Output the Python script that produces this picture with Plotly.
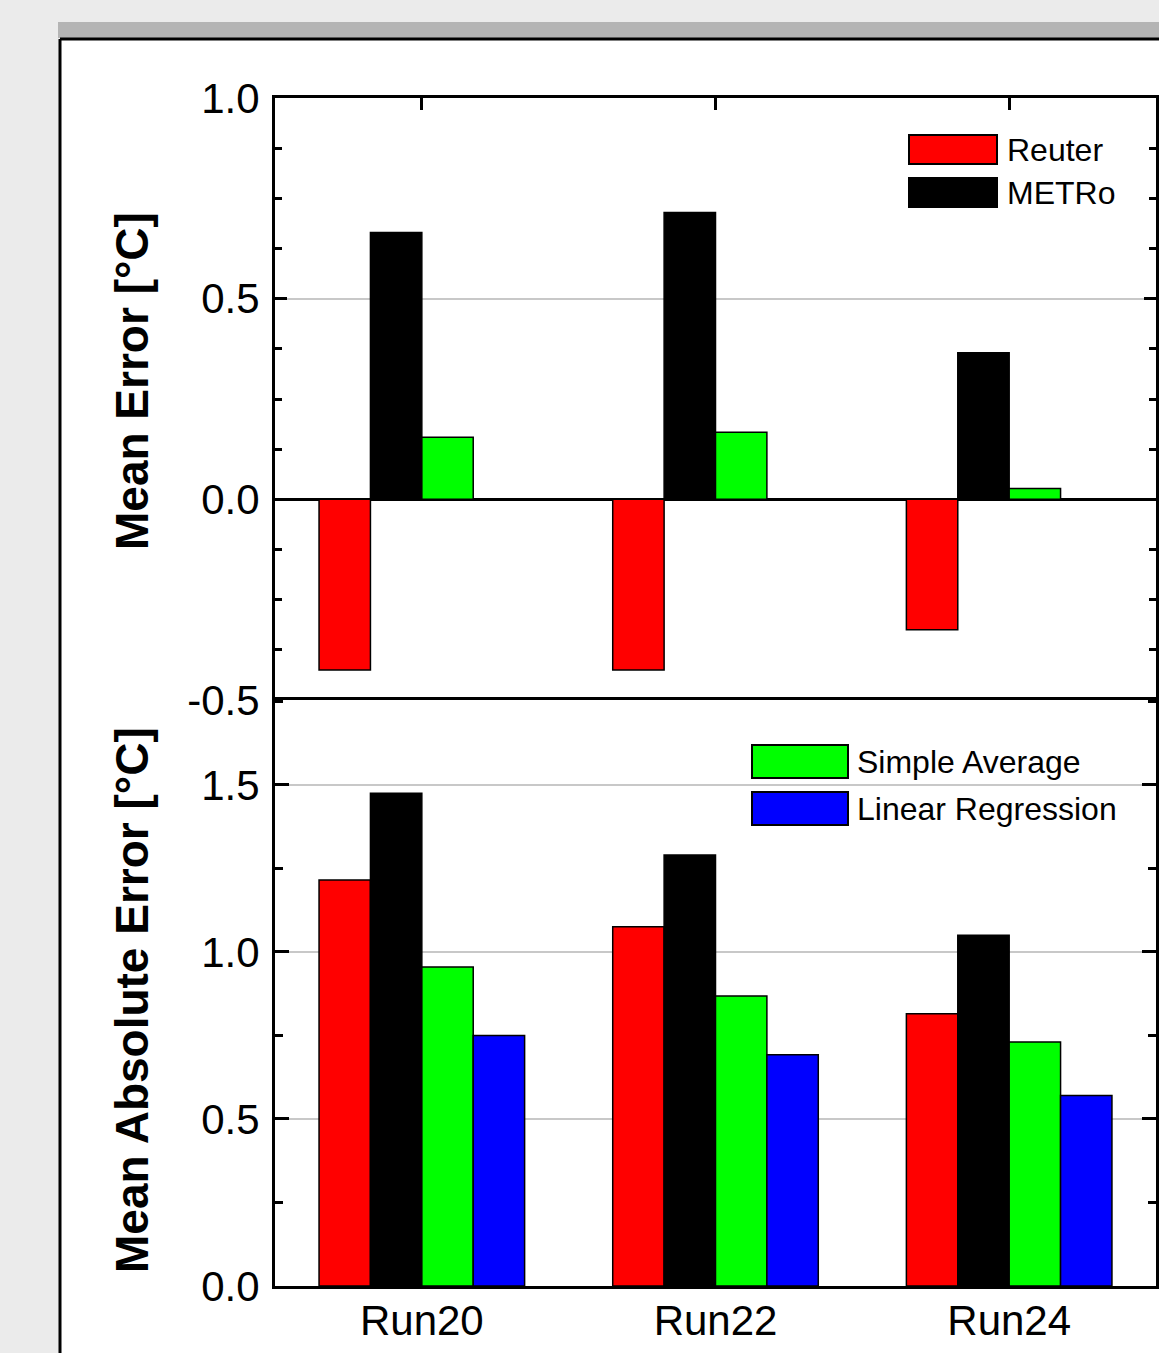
import plotly.graph_objects as go

# ---------------- data ----------------
runs = ["Run20", "Run22", "Run24"]
series_names = ["Reuter", "METRo", "Simple Average", "Linear Regression"]
series_colors = ["#ff0000", "#000000", "#00ff00", "#0000ff"]

mean_error_reuter = [-0.425, -0.425, -0.325]
mean_error_metro = [0.665, 0.715, 0.365]
mean_error_simple = [0.155, 0.167, 0.027]
mean_error_linreg = [0.0, 0.0, 0.0]

mae_reuter = [1.215, 1.075, 0.815]
mae_metro = [1.475, 1.290, 1.050]
mae_simple = [0.955, 0.868, 0.730]
mae_linreg = [0.750, 0.692, 0.570]

top_ticks = [-0.5, 0.0, 0.5, 1.0]
bottom_ticks = [0.0, 0.5, 1.0, 1.5]

me_values = [mean_error_reuter, mean_error_metro, mean_error_simple, mean_error_linreg]
mae_values = [mae_reuter, mae_metro, mae_simple, mae_linreg]

# ---------------- geometry helpers ----------------
W, H = 1159, 1353
def px(x):
    return x / W
def py(y):
    return 1 - y / H

FONT = "Liberation Sans, Arial, sans-serif"

fig = go.Figure()

for name, color, vals in zip(series_names, series_colors, me_values):
    fig.add_trace(go.Bar(x=runs, y=vals, name=name, marker=dict(color=color, line=dict(color="black", width=1.5)),
                         xaxis="x", yaxis="y", showlegend=False))
for name, color, vals in zip(series_names, series_colors, mae_values):
    fig.add_trace(go.Bar(x=runs, y=vals, name=name, marker=dict(color=color, line=dict(color="black", width=1.5)),
                         xaxis="x2", yaxis="y2", showlegend=False))

x_dom = [px(275), px(1156)]
top_dom = [py(700), py(98)]
bot_dom = [py(1286), py(700)]

axis_common = dict(showline=True, linecolor="black", linewidth=3)
tickfont = dict(family=FONT, size=42, color="black")

fig.update_layout(
    width=W, height=H,
    margin=dict(l=0, r=0, t=0, b=0, pad=0, autoexpand=False),
    paper_bgcolor="#ebebeb",
    plot_bgcolor="white",
    barmode="group", bargap=0.3, bargroupgap=0,
    showlegend=False,
    xaxis=dict(domain=x_dom, anchor="y", type="category", range=[-0.5, 2.5], side="top",
               mirror=False, ticks="inside", ticklen=12, tickwidth=3, tickcolor="black",
               showticklabels=False, showgrid=False, zeroline=False, automargin=False, **axis_common),
    yaxis=dict(domain=top_dom, anchor="x", range=[-0.5, 1.0], tickvals=top_ticks,
               ticktext=[f"{v:.1f}" for v in top_ticks],
               mirror="ticks", ticks="inside", ticklen=12, tickwidth=3, tickcolor="black",
               minor=dict(ticks="inside", dtick=0.125, ticklen=7, tickwidth=3, tickcolor="black", showgrid=False),
               showgrid=True, gridcolor="#c8c8c8", gridwidth=2,
               zeroline=True, zerolinecolor="black", zerolinewidth=3, automargin=False,
               tickfont=tickfont, ticklabelstandoff=4, **axis_common),
    xaxis2=dict(domain=x_dom, anchor="y2", type="category", range=[-0.5, 2.5],
                mirror=True, ticks="", showgrid=False, zeroline=False, automargin=False,
                tickfont=tickfont, ticklabelstandoff=-4, **axis_common),
    xaxis3=dict(domain=x_dom, anchor="y2", overlaying="x2", side="top", type="linear",
                range=[-0.5, 2.5], tickvals=[0, 1, 2], showticklabels=False, automargin=False,
                ticks="inside", ticklen=12, tickwidth=3, tickcolor="black",
                showgrid=False, zeroline=False, showline=False),
    yaxis2=dict(domain=bot_dom, anchor="x2", range=[0, 1.754], tickvals=bottom_ticks,
                ticktext=[f"{v:.1f}" for v in bottom_ticks],
                mirror="ticks", ticks="inside", ticklen=14, tickwidth=3, tickcolor="black",
                minor=dict(ticks="inside", dtick=0.25, ticklen=8, tickwidth=3, tickcolor="black", showgrid=False),
                showgrid=True, gridcolor="#c8c8c8", gridwidth=2, zeroline=False, automargin=False,
                tickfont=tickfont, ticklabelstandoff=4, **axis_common),
)

shapes = []
# window chrome: gray bar and white panel
shapes.append(dict(type="rect", xref="paper", yref="paper", x0=px(58), x1=px(1159), y0=py(38), y1=py(22),
                   fillcolor="#b4b4b4", line=dict(width=0), layer="below"))
shapes.append(dict(type="rect", xref="paper", yref="paper", x0=px(60), x1=1.0, y0=0.0, y1=py(39),
                   fillcolor="white", line=dict(width=0), layer="below"))
shapes.append(dict(type="line", xref="paper", yref="paper", x0=px(60), x1=1.0, y0=py(39), y1=py(39),
                   line=dict(color="black", width=3), layer="below"))
shapes.append(dict(type="line", xref="paper", yref="paper", x0=px(60), x1=px(60), y0=0.0, y1=py(39),
                   line=dict(color="black", width=3), layer="below"))

# legend keys (drawn manually)
legend_items = [
    (0, 909, 997, 135, 164, 1008, 150),
    (1, 909, 997, 178, 207, 1008, 193),
    (2, 752, 848, 745, 778, 858, 762),
    (3, 752, 848, 792, 825, 858, 809),
]
annotations = []
for idx, x0, x1, y0, y1, tx, ty in legend_items:
    shapes.append(dict(type="rect", xref="paper", yref="paper", x0=px(x0), x1=px(x1), y0=py(y1), y1=py(y0),
                       fillcolor=series_colors[idx], line=dict(color="black", width=2), layer="above"))
    annotations.append(dict(xref="paper", yref="paper", x=px(tx - 3), y=py(ty), xanchor="left", yanchor="middle",
                            text=series_names[idx], showarrow=False,
                            font=dict(family=FONT, size=32, color="black")))

# axis titles
annotations.append(dict(xref="paper", yref="paper", x=px(132), y=py(381), textangle=-90,
                        text="<b>Mean Error [°C]</b>", showarrow=False, xanchor="center", yanchor="middle",
                        font=dict(family=FONT, size=46, color="black")))
annotations.append(dict(xref="paper", yref="paper", x=px(132), y=py(1000), textangle=-90,
                        text="<b>Mean Absolute Error [°C]</b>", showarrow=False, xanchor="center", yanchor="middle",
                        font=dict(family=FONT, size=46, color="black")))

fig.update_layout(shapes=shapes, annotations=annotations)

fig.write_html("out.html", config={"displayModeBar": False},
               post_script="document.body.style.margin='0';document.body.style.overflow='hidden';")
